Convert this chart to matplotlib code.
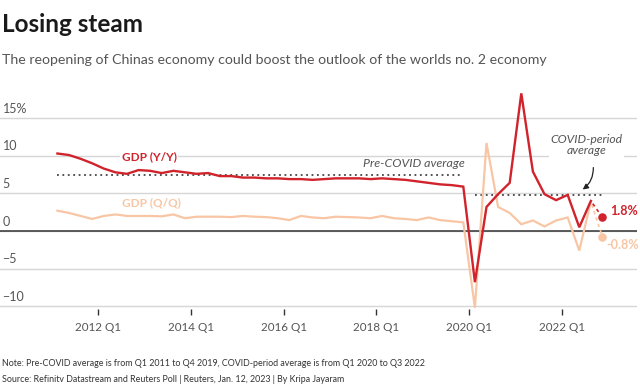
import matplotlib
matplotlib.use("Agg")
import matplotlib.pyplot as plt
import numpy as np

plt.rcParams['font.family'] = ['Lato', 'DejaVu Sans']

# quarterly data, Q1 2011 .. Q3 2022
yy = [10.3, 10.1, 9.6, 9.0,
      8.3, 7.8, 7.6, 8.1,
      8.0, 7.7, 8.0, 7.8,
      7.6, 7.7, 7.3, 7.3,
      7.1, 7.1, 7.0, 7.0,
      6.9, 6.9, 6.8, 6.9,
      7.0, 7.0, 7.0, 6.9,
      7.0, 6.9, 6.8, 6.6,
      6.4, 6.2, 6.1, 5.9,
      -6.8, 3.2, 4.9, 6.4,
      18.3, 7.9, 4.9, 4.1,
      4.8, 0.5, 4.0]
qq = [2.7, 2.4, 2.0, 1.6,
      2.0, 2.2, 2.0, 2.0,
      2.0, 1.95, 2.2, 1.7,
      1.9, 1.9, 1.9, 1.85,
      2.0, 1.9, 1.85, 1.7,
      1.45, 2.0, 1.8, 1.7,
      1.9, 1.85, 1.8, 1.7,
      2.0, 1.7, 1.6, 1.45,
      1.8, 1.45, 1.3, 1.15,
      -10.2, 11.7, 3.2, 2.4,
      0.9, 1.4, 0.6, 1.4,
      1.8, -2.6, 3.9]
# Reuters poll for Q4 2022
poll_yy = 1.8
poll_qq = -0.8
pre_covid_avg = 7.45
covid_avg = 4.8

yticks = [15, 10, 5, 0, -5, -10]
ytick_labels = ['15%', '10', '5', '0', '\u22125', '\u221210']
xtick_labels = ['2012 Q1', '2014 Q1', '2016 Q1', '2018 Q1', '2020 Q1', '2022 Q1']
xtick_quarters = [4, 12, 20, 28, 36, 44]

RED = '#d0232b'
LIGHT = '#f8c6a4'
GREY = '#555555'

x = np.arange(len(yy))
xf = len(yy)

fig = plt.figure(figsize=(6.4, 3.88), dpi=100)
ax = fig.add_axes([0, 0.203, 0.995, 0.570])
ax.set_xlim(-4.95, 49.96)
ax.set_ylim(-10.4, 19)

for i, v in enumerate(yticks):
    ax.axhline(v, color='#d6d6d6', lw=1.0, zorder=0)
    ax.text(0.004, v + 0.45, ytick_labels[i], transform=ax.get_yaxis_transform(),
            ha='left', va='bottom', fontsize=9, color=GREY)
ax.axhline(0, color='#333333', lw=1.1, zorder=1)

# averages
ax.plot([0, 35], [pre_covid_avg] * 2, color='#444444', lw=1.3, ls=(0, (1, 2)), zorder=2)
ax.plot([36, xf], [covid_avg] * 2, color='#444444', lw=1.3, ls=(0, (1, 2)), zorder=2)

ax.plot(x, qq, color=LIGHT, lw=1.6, zorder=3, solid_joinstyle='miter')
ax.plot(x, yy, color=RED, lw=1.7, zorder=4, solid_joinstyle='miter')

# poll forecast
ax.plot([x[-1], xf], [yy[-1], poll_yy], color=RED, lw=1.2, ls=(2, (2, 2)), zorder=4)
ax.plot([x[-1], xf], [qq[-1], poll_qq], color=LIGHT, lw=1.2, ls=(2, (2, 2)), zorder=3)
ax.scatter([xf], [poll_yy], s=38, color=RED, zorder=5, lw=0)
ax.scatter([xf], [poll_qq], s=38, color=LIGHT, zorder=5, lw=0)
ax.text(xf + 0.65, poll_yy + 0.9, '1.8%', color=RED, fontsize=9, fontweight='bold',
        ha='left', va='center')
ax.text(xf + 0.35, poll_qq - 1.0, '-0.8%', color=LIGHT, fontsize=9, fontweight='bold',
        ha='left', va='center')

# labels
box = dict(facecolor='white', edgecolor='none', pad=1)
ax.text(7.9, 9.9, 'GDP (Y/Y)', color=RED, fontsize=8.5, fontweight='bold',
        ha='center', va='center', bbox=box, zorder=6)
ax.text(8.1, 3.75, 'GDP (Q/Q)', color=LIGHT, fontsize=8.5, fontweight='bold',
        ha='center', va='center', bbox=box, zorder=6)
ax.text(30.7, 9.0, 'Pre-COVID average', color=GREY, fontsize=8.9, style='italic',
        ha='center', va='center', zorder=6)
ax.text(45.6, 11.4, 'COVID-period\naverage', color=GREY, fontsize=8.7, style='italic',
        ha='center', va='center', linespacing=1.05, bbox=box, zorder=6)
ax.annotate('', xy=(45.1, 5.3), xytext=(46.2, 8.8),
            arrowprops=dict(arrowstyle='-|>', color='#222222', lw=0.9,
                            connectionstyle='arc3,rad=-0.3', mutation_scale=8))

ax.set_xticks([q - 0.5 for q in xtick_quarters])
ax.set_xticklabels(xtick_labels, fontsize=8.4, color=GREY)
ax.tick_params(axis='x', length=4, width=1, color='#333333', pad=5)
ax.set_yticks([])
for s in ax.spines.values():
    s.set_visible(False)

fig.text(0.003, 1 - 32 / 388, 'Losing steam', fontsize=17.5, fontweight='bold',
         color='#1a1a1a', va='baseline')
fig.text(0.003, 1 - 64 / 388,
         'The reopening of Chinas economy could boost the outlook of the worlds no. 2 economy',
         fontsize=10.2, color=GREY, va='baseline')
fig.text(0.003, 1 - 366.5 / 388,
         'Note: Pre-COVID average is from Q1 2011 to Q4 2019, COVID-period average is from Q1 2020 to Q3 2022',
         fontsize=6.4, color='#333333', va='baseline')
fig.text(0.003, 1 - 381.5 / 388,
         'Source: Refinitv Datastream and Reuters Poll | Reuters, Jan. 12, 2023 | By Kripa Jayaram',
         fontsize=6.4, color='#333333', va='baseline')

fig.savefig('out.png', dpi=100)
